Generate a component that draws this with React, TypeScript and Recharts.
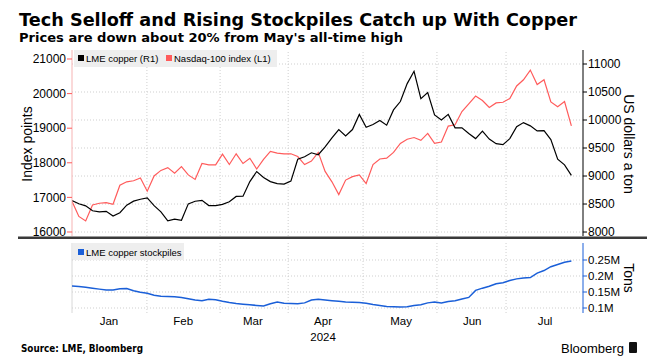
import { LineChart, Line, XAxis, YAxis, ReferenceLine } from "recharts";

// one point every two trading days, starting 2 Jan 2024
const dayStep = 2;

const nasdaq = [
  16885, 16450, 16320, 16780, 16830, 16850, 16800, 17350, 17450, 17480,
  17560, 17180, 17620, 17780, 17860, 17700, 17890, 17650, 17520, 17980,
  17940, 17940, 18250, 17950, 18260, 17980, 18130, 17820, 18100, 18330,
  18280, 18260, 18260, 18180, 17950, 18050, 18300, 17750, 17450, 17080,
  17500, 17600, 17650, 17400, 17950, 18110, 18135, 18300, 18560, 18680,
  18730, 18650, 18850, 18560, 18600, 19060, 19100, 19480, 19700, 19930,
  19800, 19600, 19730, 19750, 19860, 20220, 20400, 20680, 20260, 20400,
  19760, 19620, 19770, 19067,
];

const copper = [
  8563, 8505, 8467, 8380, 8360, 8370, 8285, 8345, 8480, 8551,
  8585, 8610, 8470, 8360, 8200, 8230, 8210, 8503, 8550, 8565,
  8473, 8470, 8495, 8540, 8635, 8640, 8900, 9080, 8975, 8900,
  8865, 8855, 8910, 9300, 9345, 9415, 9380, 9520, 9680, 9830,
  9715, 9830, 10100, 9870, 9920, 9990, 9907, 10180, 10330, 10650,
  10870, 10380, 10490, 10090, 10000, 10100, 9860, 9860, 9760, 9668,
  9800, 9660, 9578, 9560, 9668, 9880, 9954, 9895, 9805, 9810,
  9650, 9300, 9200, 9011,
];

// thousand tons
const stockpiles = [
  169, 167, 165, 162, 159, 156, 156, 160, 161, 154,
  149, 146, 140, 137, 136, 135, 133, 129, 125, 123,
  127, 126, 121, 117, 114, 112, 110, 108, 106, 113,
  119, 115, 114, 113, 116, 125, 127, 125, 123, 121,
  119, 118, 117, 115, 111, 108, 105, 104, 103, 104,
  108, 110, 116, 119, 116, 120, 123, 128, 133, 155,
  162, 168, 176, 179, 186, 191, 194, 195, 209, 217,
  229, 236, 243, 247,
];

const monthLabels = ["Jan", "Feb", "Mar", "Apr", "May", "Jun", "Jul"];
const monthCenters = [10.8, 32.5, 52.9, 73.4, 96.2, 117, 138.3];
const monthStarts = [21.9, 43.3, 63.2, 85.1, 106.7, 126.9];
const yearLabel = "2024";

const leftTicks = [16000, 17000, 18000, 19000, 20000, 21000];
const rightTicks = [8000, 8500, 9000, 9500, 10000, 10500, 11000];
const tonTicks = [100000, 150000, 200000, 250000];

const data = copper.map((c, i) => ({
  x: i * dayStep,
  copper: c,
  nasdaq: nasdaq[i],
  stock: stockpiles[i] * 1000,
}));

const RED = "#ff5b5b";
const BLUE = "#1a5fd8";
const GRID = "#cfcfcf";
const FONT = '"Liberation Sans", Arial, sans-serif';
const X_DOMAIN = [0, 149.4];

const MonthTick = (props: any) => {
  const { x, y, payload } = props;
  const i = monthCenters.indexOf(payload.value);
  const label = monthLabels[i];
  return (
    <g>
      <text x={x} y={y + 12} textAnchor="middle" fontSize={11.5} fill="#000" fontFamily={FONT}>
        {label}
      </text>
      {label === "Apr" && (
        <text x={x} y={y + 28} textAnchor="middle" fontSize={11.5} fill="#000" fontFamily={FONT}>
          {yearLabel}
        </text>
      )}
    </g>
  );
};

const App = () => {
  return (
    <div
      style={{
        position: "absolute",
        left: 0,
        top: 0,
        width: 647,
        height: 360,
        background: "#fff",
        fontFamily: FONT,
        overflow: "hidden",
      }}
    >
      <div style={{ position: "absolute", left: 0, top: 0 }}>
        <LineChart width={647} height={240} data={data} margin={{ top: 50, right: 0, bottom: 4, left: 0 }}>
          <XAxis dataKey="x" type="number" domain={X_DOMAIN} hide allowDataOverflow />
          <YAxis
            yAxisId="left"
            orientation="left"
            width={72}
            domain={[15884, 21260]}
            ticks={leftTicks}
            interval={0}
            allowDataOverflow
            axisLine={{ stroke: "#f6b3b3" }}
            tickLine={{ stroke: RED }}
            tickSize={5}
            tickMargin={1}
            tick={{ fill: "#000", fontSize: 12, fontFamily: FONT }}
          />
          <YAxis
            yAxisId="right"
            orientation="right"
            width={64}
            domain={[7929, 11250]}
            ticks={rightTicks}
            interval={0}
            allowDataOverflow
            axisLine={{ stroke: "#000" }}
            tickLine={{ stroke: "#000" }}
            tickSize={4}
            tickMargin={1}
            tick={{ fill: "#000", fontSize: 12, fontFamily: FONT }}
          />
          {rightTicks.map((t) => (
            <ReferenceLine key={"h" + t} yAxisId="right" y={t} stroke={GRID} strokeDasharray="1 2" />
          ))}
          {monthStarts.map((m) => (
            <ReferenceLine key={"v" + m} yAxisId="right" x={m} stroke={GRID} strokeDasharray="1 2" />
          ))}
          <Line
            yAxisId="left"
            type="linear"
            dataKey="nasdaq"
            stroke={RED}
            strokeWidth={1.2}
            dot={false}
            isAnimationActive={false}
          />
          <Line
            yAxisId="right"
            type="linear"
            dataKey="copper"
            stroke="#000"
            strokeWidth={1.2}
            dot={false}
            isAnimationActive={false}
          />
        </LineChart>
      </div>

      <div style={{ position: "absolute", left: 0, top: 237 }}>
        <LineChart width={647} height={110} data={data} margin={{ top: 6, right: 0, bottom: 4, left: 72 }}>
          <XAxis
            dataKey="x"
            type="number"
            domain={X_DOMAIN}
            ticks={monthCenters}
            allowDataOverflow
            axisLine={false}
            tickLine={false}
            tickSize={0}
            tickMargin={0}
            height={30}
            tick={<MonthTick />}
            interval={0}
          />
          <YAxis
            yAxisId="right"
            orientation="right"
            width={64}
            domain={[84375, 303125]}
            ticks={tonTicks}
            interval={0}
            allowDataOverflow
            axisLine={{ stroke: BLUE }}
            tickLine={{ stroke: BLUE }}
            tickSize={4}
            tickMargin={1}
            tickFormatter={(v: number) => `${v / 1e6}M`}
            tick={{ fill: "#000", fontSize: 11.5, fontFamily: FONT }}
          />
          {tonTicks.map((t) => (
            <ReferenceLine key={"h" + t} yAxisId="right" y={t} stroke={GRID} strokeDasharray="1 2" />
          ))}
          {monthStarts.map((m) => (
            <ReferenceLine key={"v" + m} yAxisId="right" x={m} stroke={GRID} strokeDasharray="1 2" />
          ))}
          <ReferenceLine yAxisId="right" x={0} stroke="#d8d8d8" />
          <Line
            yAxisId="right"
            type="linear"
            dataKey="stock"
            stroke={BLUE}
            strokeWidth={1.5}
            dot={false}
            isAnimationActive={false}
          />
        </LineChart>
      </div>

      <svg
        width={647}
        height={360}
        style={{ position: "absolute", left: 0, top: 0, pointerEvents: "none" }}
        fontFamily={FONT}
      >
        <text
          x={19}
          y={26}
          fontSize={18}
          fontWeight="bold"
          fontFamily='"DejaVu Sans", sans-serif'
          textLength={558}
          lengthAdjust="spacingAndGlyphs"
          fill="#000"
        >
          Tech Selloff and Rising Stockpiles Catch up With Copper
        </text>
        <text
          x={19}
          y={42}
          fontSize={13}
          fontWeight="bold"
          fontFamily='"DejaVu Sans", sans-serif'
          textLength={384}
          lengthAdjust="spacingAndGlyphs"
          fill="#000"
        >
          Prices are down about 20% from May's all-time high
        </text>

        {/* legend, top panel */}
        <rect x={74} y={50} width={203} height={17} fill="#eeeeee" />
        <rect x={78} y={55} width={6} height={6} fill="#000" />
        <text x={86} y={61.5} fontSize={9.5} fill="#000">LME copper (R1)</text>
        <rect x={166} y={55} width={6} height={6} fill={RED} />
        <text x={174} y={61.5} fontSize={9.5} fill="#000">Nasdaq-100 index (L1)</text>

        {/* legend, bottom panel */}
        <rect x={73} y={243} width={111} height={17} fill="#eeeeee" />
        <rect x={78} y={249} width={6} height={6} fill={BLUE} />
        <text x={86} y={255.5} fontSize={9.5} fill="#000">LME copper stockpiles</text>

        {/* axis titles */}
        <text x={32} y={144} fontSize={14} fill="#000" textAnchor="middle" transform="rotate(-90 32 144)">
          Index points
        </text>
        <text x={623.5} y={144} fontSize={14} fill="#000" textAnchor="middle" transform="rotate(90 623.5 144)">
          US dollars a ton
        </text>
        <text x={623.5} y={278} fontSize={14} fill="#000" textAnchor="middle" transform="rotate(90 623.5 278)">
          Tons
        </text>

        {/* panel separator */}
        <rect x={18} y={236.5} width={629} height={2.5} fill="#3a3a3a" />

        <text
          x={21}
          y={352}
          fontSize={11}
          fontWeight="bold"
          fontFamily='"DejaVu Sans", sans-serif'
          textLength={122}
          lengthAdjust="spacingAndGlyphs"
          fill="#000"
        >
          Source: LME, Bloomberg
        </text>
        <text x={561} y={353} fontSize={13} fill="#000">Bloomberg</text>
        <rect x={629} y={342} width={8} height={11} rx={1} fill="#111" />
      </svg>
    </div>
  );
};

export default App;
